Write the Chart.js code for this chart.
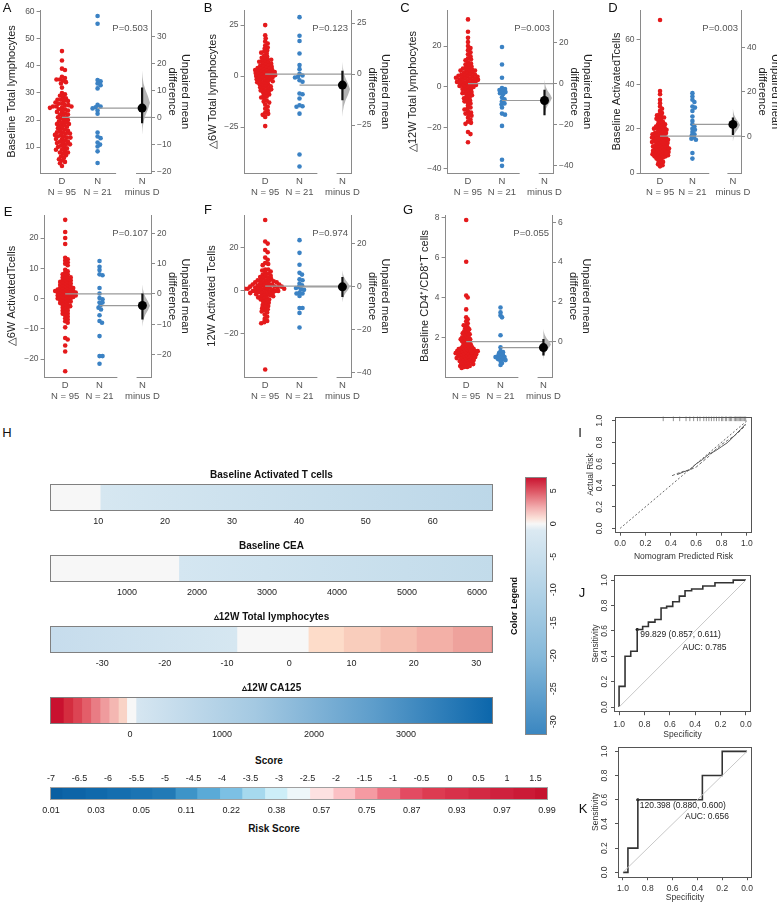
<!DOCTYPE html>
<html>
<head>
<meta charset="utf-8">
<title>Estimation plots, nomogram and ROC</title>
<script src="https://cdn.jsdelivr.net/npm/chart.js@4.4.1/dist/chart.umd.min.js"></script>
<style>
  html, body { margin: 0; padding: 0; background: #fff; }
  body { position: relative; width: 777px; height: 904px; overflow: hidden;
         font-family: 'Liberation Sans', Arial, sans-serif; }
  canvas { position: absolute; }
  .lbl { position: absolute; transform: translate(-50%, -50%); white-space: nowrap; line-height: 1; color: #111; }
</style>
</head>
<body>
<script>
// ---------- A-G : D vs N swarms ----------
const A_D = [45.5,42,39,38.5,36,35.5,35,35,34.5,34, 33.5,32,30,29.5,29,28.5,28,27.5,27.5,27,
  27,26.5,26,26,25.5,25.5,25,25,25,24.5, 24.5,24,24,23.5,23,23,22.5,22,22,21.5,
  21,21,20.5,20,20,19.5,19,19,18.5,18.5, 18,18,17.5,17,17,16.5,16,16,15.5,15.5,
  15,15,14.5,14.5,14,14,13.5,13.5,13,13, 12.5,12,12,11.5,11.5,11,11,10.5,10,10,
  9.5,9,9,8.5,8,8,7.5,7,6.5,6, 5.5,5,4.5,4,3];
const A_N = [58.5,55.6,34.8,34.3,33.5,32.9,31.7,25.6,24.7,25,24.3,23.5,22.3,15.4,13.3,13.9,10.9,11.7,10.2,8.4,4.1];

const B_D = [25,20,18.5,17,16,15,14,13.5,12.5,12, 11.5,11,10,9.5,9,8.5,8,8,7.5,7,
  7,6.5,6,6,5.5,5,5,4.5,4.5,4, 4,3.5,3.5,3,3,3,2.5,2.5,2,2,
  2,1.5,1.5,1,1,1,0.5,0.5,0,0, 0,-0.5,-0.5,-1,-1,-1.5,-1.5,-2,-2,-2.5,
  -2.5,-3,-3,-3.5,-4,-4,-4.5,-5,-5,-5.5, -6,-6,-6.5,-7,-7.5,-8,-8.5,-9,-9.5,-10,
  -10.5,-11,-12,-12.5,-13,-14,-15,-16,-17,-18, -18.5,-19,-20,-24.5,-7];
const B_N = [28.9,19.8,17.2,11.1,5.4,3.4,1.1,0.3,-0.7,-0.3,-2,-2.8,-8.9,-8.5,-11,-15,-14.8,-14.3,-18.4,-38.4,-44.3];

const C_D = [33,27,24,22,20,19,18,17,16,15, 14,13.5,13,12,11.5,11,10.5,10,9.5,9,
  9,8.5,8,8,7.5,7,7,6.5,6,6, 5.5,5.5,5,5,4.5,4.5,4,4,3.5,3.5,
  3,3,2.5,2.5,2,2,1.5,1,1,0.5, 0,0,-0.5,-1,-1.5,-2,-2.5,-3,-3.5,-4,
  -4.5,-5,-5.5,-6,-6.5,-7,-7.5,-8,-9,-10, -10.5,-11,-12,-12.5,-13,-13.5,-14,-15,-16,-17,
  -17.5,-18,-22,-23,-27,8,5,3,2,1, 0.5,-1,-3,4,6];
const C_N = [19.5,11,4.5,-0.5,-1,-1.5,-2,-2.5,-3,-3.5,-5,-6,-7,-8,-8.5,-10,-13,-13.5,-19,-35.5,-38.5];

const D_D = [69,37,35.5,33,31.5,30,29,28,27,26.5, 26,25.5,25,25,24.5,24,23.5,23,22.5,22,
  22,21.5,21,20.5,20,20,19.5,19,19,18.5, 18,18,17.5,17.5,17,17,16.5,16.5,16,16,
  15.5,15.5,15,15,14.5,14.5,14,14,13.5,13.5, 13,13,12.5,12.5,12,12,11.5,11.5,11,11,
  10.5,10.5,10,10,9.5,9.5,9,9,8.5,8.5, 8,8,7.5,7.5,7,7,6.5,6,5.5,5,
  4.5,4,3.5,3,20,18,15,12,10,8, 16,14,11,9,21];
const D_N = [36,34.5,33,32,30,29.5,28,25.5,23.5,22,21,20,19.5,18.5,17.5,17,16,15.5,15,9,6.5];

const E_D = [26,22,20,18,13.5,13,12.5,12,11.5,11, 9.5,9,8.5,8,8,7.5,7,7,6.5,6,
  6,5.5,5.5,5,5,4.5,4.5,4,4,3.5, 3.5,3.5,3,3,3,2.5,2.5,2.5,2,2,
  2,2,1.5,1.5,1.5,1,1,1,0.5,0.5, 0,0,0,-0.5,-0.5,-1,-1,-1.5,-1.5,-2,
  -2,-2.5,-2.5,-3,-3,-3.5,-4,-4,-4.5,-5, -5,-5.5,-6,-6.5,-7,-7.5,-8,-9.5,-13,-13.5,
  -15.5,-17.5,-24,4,3,2,1,0.5,6,7, 5,1,2.5,0,-1];
const E_N = [12.4,10.5,9.4,8,7.7,3.5,1.7,0.2,-0.2,-1.3,-1.3,-2.2,-3,-3.6,-5.5,-7.4,-8,-12.4,-19,-19,-21.5];

const F_D = [33,23,22,19,18,15.5,14.5,13,12.5,12, 10,9.5,9,8.5,8,7.5,7,6.5,6,5.5,
  5,5,4.5,4.5,4,4,3.5,3.5,3,3, 3,2.5,2.5,2,2,2,1.5,1.5,1.5,1,
  1,1,0.5,0.5,0.5,0,0,0,-0.5,-0.5, -0.5,-1,-1,-1.5,-1.5,-2,-2,-2.5,-2.5,-3,
  -3,-3.5,-4,-4,-4.5,-5,-5.5,-6,-6.5,-7, -7.5,-8,-8.5,-9,-9.5,-10,-11,-12,-13,-14,
  -14.5,-15,-36.5,6,4,3,2,1,0,7, 10,5,2,1,-1];
const F_N = [23.6,17.7,12.2,8.4,7.6,5.4,5,3.4,2.6,1.9,1.4,0.8,0.5,-0.8,-1.2,-1.2,-2.3,-7.9,-7.9,-10.2,-17];

const G_D = [7.9,5.8,4.1,4.0,3.4,3.0,2.9,2.8,2.7,2.6, 2.5,2.45,2.4,2.35,2.3,2.25,2.2,2.15,2.1,2.05,
  2.0,2.0,1.95,1.9,1.9,1.85,1.8,1.8,1.75,1.7, 1.7,1.65,1.6,1.6,1.55,1.5,1.5,1.45,1.45,1.4,
  1.4,1.35,1.35,1.3,1.3,1.3,1.25,1.25,1.2,1.2, 1.2,1.15,1.15,1.1,1.1,1.1,1.05,1.05,1.0,1.0,
  1.0,0.95,0.95,0.9,0.9,0.9,0.85,0.85,0.8,0.8, 0.8,0.75,0.75,0.7,0.7,0.65,0.65,0.6,0.6,0.55,
  0.55,0.5,0.5,0.45,1.25,1.3,1.2,1.15,1.35,2.2, 1.5,1.0,1.9,2.6,1.4];
const G_N = [3.5,3.25,3.1,3.0,2.1,1.5,1.3,1.25,1.2,1.1,1.1,1.05,1.0,1.0,0.95,0.9,0.9,0.85,0.8,0.7,0.6];

// group means [D, N], 95% CI of N minus D, extent of the bootstrap violin
const A_MEAN = [21.0, 24.4],  A_CI = [-2.2, 11],   A_VIO = [-6.5, 17.3];
const B_MEAN = [1.0, -4.4],   B_CI = [-12.8, 1.6], B_VIO = [-21, 6];
const C_MEAN = [1.6, -6.6],   C_CI = [-15.4, -2.9], C_VIO = [-16, 2];
const D_MEAN = [16.6, 21.9],  D_CI = [0.5, 8.4],   D_VIO = [-2.5, 12.5];
const E_MEAN = [1.55, -2.3],  E_CI = [-8.5, 0.1],  E_VIO = [-10.9, 3.1];
const F_MEAN = [2.2, 1.9],    F_CI = [-5, 4.3],    F_VIO = [-7.6, 7.4];
const G_MEAN = [1.78, 1.48],  G_CI = [-0.7, 0.13], G_VIO = [-0.92, 0.64];
const VIOLIN_PROFILE = [0, 0.06, 0.18, 0.42, 0.75, 1, 0.75, 0.42, 0.18, 0.06, 0];

const GROUP_LABELS = [['D', 'N = 95'], ['N', 'N = 21'], ['N', 'minus D']];

// ---------- H : nomogram bars ----------
const ACT_EDGES = [2.8, 10.3, 69];
const ACT_TICKS = [10, 20, 30, 40, 50, 60];
const CEA_EDGES = [-100, 1740, 6230];
const CEA_TICKS = [1000, 2000, 3000, 4000, 5000, 6000];
const TL12_EDGES = [-38.4, -8.4, 3.05, 8.7, 14.6, 20.4, 26.2, 32.3, 32.7];
const TL12_TICKS = [-30, -20, -10, 0, 10, 20, 30];
const CA125_EDGES = [-870, -725, -622, -525, -427, -326, -228, -127, -36, 65, 3946];
const CA125_TICKS = [0, 1000, 2000, 3000];

const SCORE_EDGES = [-7.018, -6.81, -6.40, -6.02, -5.61, -5.23, -4.82, -4.44, -4.04, -3.65, -3.25, -2.86,
  -2.46, -2.05, -1.67, -1.28, -0.88, -0.49, -0.09, 0.32, 0.70, 1.11, 1.49, 1.72];
const SCORE_TICKS = [-7, -6.5, -6, -5.5, -5, -4.5, -4, -3.5, -3, -2.5, -2, -1.5, -1, -0.5, 0, 0.5, 1, 1.5];
const RISK_LABELS = ['0.01', '0.03', '0.05', '0.11', '0.22', '0.38', '0.57', '0.75', '0.87', '0.93', '0.97', '0.99'];

const LEGEND_RANGE = [-32, 7.1];
const LEGEND_TICKS = [5, 0, -5, -10, -15, -20, -25, -30];
const LEGEND_STOPS = [7.1, 5, 2.5, 0.8, 0, -1, -10, -20, -32];

// ---------- I : calibration ----------
const I_APP_X = [0.41, 0.45, 0.5, 0.55, 0.6, 0.65, 0.7, 0.75, 0.8, 0.85, 0.9, 0.95, 0.99];
const I_APP_Y = [0.49, 0.51, 0.53, 0.545, 0.57, 0.62, 0.67, 0.73, 0.78, 0.82, 0.86, 0.91, 0.96];
const I_BC_X = [0.45, 0.5, 0.55, 0.6, 0.65, 0.7, 0.75, 0.8, 0.85, 0.9, 0.95, 0.99];
const I_BC_Y = [0.5, 0.525, 0.545, 0.6, 0.64, 0.69, 0.72, 0.76, 0.8, 0.86, 0.92, 0.97];
const I_RUG = [0.34, 0.42, 0.47, 0.52, 0.55, 0.58, 0.61, 0.63, 0.66, 0.68, 0.7, 0.72, 0.74, 0.76, 0.78, 0.8,
  0.81, 0.83, 0.84, 0.86, 0.87, 0.88, 0.9, 0.91, 0.92, 0.93, 0.94, 0.95, 0.96, 0.97, 0.98, 0.99];

// ---------- J, K : ROC ----------
const J_SPEC = [1, 1, 0.953, 0.953, 0.908, 0.908, 0.857, 0.857, 0.814, 0.814, 0.769, 0.769, 0.717, 0.717,
  0.669, 0.669, 0.625, 0.625, 0.577, 0.577, 0.525, 0.525, 0.48, 0.48, 0.428, 0.428, 0.34, 0.34, 0.244, 0.244, 0.1, 0.1, 0];
const J_SENS = [0, 0.163, 0.163, 0.4, 0.4, 0.44, 0.44, 0.611, 0.611, 0.635, 0.635, 0.669, 0.669, 0.69,
  0.69, 0.78, 0.78, 0.793, 0.793, 0.83, 0.83, 0.874, 0.874, 0.916, 0.916, 0.93, 0.93, 0.953, 0.953, 0.979, 0.979, 1, 1];
const K_SPEC = [1, 0.96, 0.96, 0.88, 0.88, 0.36, 0.36, 0.2, 0.2, 0];
const K_SENS = [0, 0, 0.2, 0.2, 0.6, 0.6, 0.8, 0.8, 1, 1];
const UNIT_TICKS = [0, 0.2, 0.4, 0.6, 0.8, 1];

// ================= drawing =================
const FONT = "'Liberation Sans', Arial, sans-serif";
Chart.defaults.font.family = FONT;
Chart.defaults.animation = false;
Chart.defaults.responsive = false;
Chart.defaults.devicePixelRatio = 1;
Chart.defaults.plugins.legend.display = false;
Chart.defaults.plugins.tooltip.enabled = false;
Chart.defaults.color = '#333';

const RED = '#e41a1c', BLUE = '#3b82c4', AXIS = '#8a8a8a';
const X_MIN = 0.4, X_D = 1, X_N = 2, X_DIFF = 3.25, X_MAX = 3.5;

function mk(l, t, w, h) {
  const c = document.createElement('canvas');
  c.width = w; c.height = h;
  c.style.left = l + 'px'; c.style.top = t + 'px';
  document.body.appendChild(c);
  return c;
}
function label(text, x, y, css) {
  const d = document.createElement('div');
  d.className = 'lbl';
  d.textContent = text;
  d.style.left = x + 'px'; d.style.top = y + 'px';
  Object.assign(d.style, css || {});
  document.body.appendChild(d);
}
const minus = v => String(v).replace('-', '\u2212');
const plain = v => String(v);
const fixed = list => s => { s.ticks = list.map(v => ({value: v})); };

function framePlugin(color) {
  return {
    id: 'frame',
    afterDraw(chart) {
      const a = chart.chartArea, c = chart.ctx;
      c.save();
      c.strokeStyle = color; c.lineWidth = 1;
      c.strokeRect(Math.round(a.left) + 0.5, Math.round(a.top) + 0.5,
        Math.round(a.right - a.left) - 1, Math.round(a.bottom - a.top) - 1);
      c.restore();
    }
  };
}
function notesPlugin(items) {
  return {
    id: 'notes',
    afterDatasetsDraw(chart) {
      const c = chart.ctx, xs = chart.scales.x, ys = chart.scales.y;
      c.save();
      c.fillStyle = '#222'; c.font = '8.5px ' + FONT;
      c.textAlign = 'left'; c.textBaseline = 'middle';
      items.forEach(n => c.fillText(n.text, xs.getPixelForValue(n.x) + (n.dx || 0), ys.getPixelForValue(n.y) + (n.dy || 0)));
      c.restore();
    }
  };
}
function estPlugin(pText) {
  return {
    id: 'est',
    afterDraw(chart) {
      const c = chart.ctx, a = chart.chartArea, x = chart.scales.x;
      const yb = Math.round(a.bottom) + 0.5;
      c.save();
      c.strokeStyle = AXIS; c.lineWidth = 1;
      c.beginPath();
      c.moveTo(a.left, yb); c.lineTo(x.getPixelForValue(X_N + 0.52), yb);
      c.moveTo(x.getPixelForValue(X_DIFF - 0.17), yb); c.lineTo(a.right, yb);
      c.stroke();
      c.fillStyle = '#555'; c.font = '9.5px ' + FONT;
      c.textAlign = 'right'; c.textBaseline = 'middle';
      c.fillText(pText, a.right - 3, a.top + 18);
      c.restore();
    }
  };
}

// simple beeswarm in pixel space
function swarm(chart, values, cx, gap) {
  const xs = chart.scales.x, ys = chart.scales.y;
  const ppu = xs.getPixelForValue(1) - xs.getPixelForValue(0);
  const order = values.map((v, i) => i).sort((a, b) => values[b] - values[a]);
  const placed = [], out = [];
  order.forEach(i => {
    const py = ys.getPixelForValue(values[i]);
    let dx = 0;
    for (let k = 0; k < 240; k++) {
      dx = (k % 2 ? 1 : -1) * Math.ceil(k / 2) * 0.5;
      if (placed.every(q => (q.x - dx) ** 2 + (q.y - py) ** 2 >= gap * gap)) break;
    }
    placed.push({x: dx, y: py});
    out[i] = {x: cx + dx / ppu, y: values[i]};
  });
  return out;
}

const PANELS = [
  {title: 'Baseline Total lymphocytes', D: A_D, N: A_N, mean: A_MEAN, ci: A_CI, vio: A_VIO, p: 'P=0.503',
   y: [0.4, 60.7], yt: [10, 20, 30, 40, 50, 60], y2t: [-20, -10, 0, 10, 20, 30], L: 41, R: 152, T: 10, B: 173, tOff: 29, gap: 3.1},
  {title: '\u25B36W Total lymphocytes', D: B_D, N: B_N, mean: B_MEAN, ci: B_CI, vio: B_VIO, p: 'P=0.123',
   y: [-47.5, 32.4], yt: [-25, 0, 25], y2t: [-25, 0, 25], L: 245, R: 352, T: 10, B: 173, tOff: 32, gap: 3.1},
  {title: '\u25B312W Total lymphocytes', D: C_D, N: C_N, mean: C_MEAN, ci: C_CI, vio: C_VIO, p: 'P=0.003',
   y: [-42, 37.6], yt: [-40, -20, 0, 20], y2t: [-40, -20, 0, 20], L: 448, R: 554, T: 10, B: 173, tOff: 35, gap: 3.1},
  {title: 'Baseline ActivatedTcells', D: D_D, N: D_N, mean: D_MEAN, ci: D_CI, vio: D_VIO, p: 'P=0.003',
   y: [0, 73.5], yt: [0, 20, 40, 60], y2t: [0, 20, 40], L: 641, R: 742, T: 10, B: 173, tOff: 24, gap: 2.7},
  {title: '\u25B36W ActivatedTcells', D: E_D, N: E_N, mean: E_MEAN, ci: E_CI, vio: E_VIO, p: 'P=0.107',
   y: [-25.9, 27.6], yt: [-20, -10, 0, 10, 20], y2t: [-20, -10, 0, 10, 20], L: 45, R: 152, T: 215, B: 377, tOff: 33, gap: 2.9},
  {title: '12W Activated Tcells', D: F_D, N: F_N, mean: F_MEAN, ci: F_CI, vio: F_VIO, p: 'P=0.974',
   y: [-40, 35.3], yt: [-20, 0, 20], y2t: [-40, -20, 0, 20], L: 245, R: 352, T: 215, B: 377, tOff: 33, gap: 3.0},
  {title: 'Baseline CD4\u207A/CD8\u207AT cells', D: G_D, N: G_N, mean: G_MEAN, ci: G_CI, vio: G_VIO, p: 'P=0.055',
   y: [0, 8.15], yt: [2, 4, 6, 8], y2t: [0, 2, 4, 6], L: 446, R: 553, T: 215, B: 377, tOff: 21, gap: 2.3}
];

function estimation(p) {
  const yW = p.tOff + 10.6;
  const left = p.L - yW, top = p.T - 10;
  const cv = mk(left, top, p.R + 45 - left, p.B + 32 - top);
  const md = p.mean[0], mn = p.mean[1];
  const n = VIOLIN_PROFILE.length;
  const vio = VIOLIN_PROFILE.map((f, i) => ({
    x: X_DIFF + 0.22 * f,
    y: p.vio[1] - (p.vio[1] - p.vio[0]) * i / (n - 1)
  }));
  const tickOpts = {color: '#555', font: {size: 8.5}, padding: 2, callback: minus};
  const chart = new Chart(cv, {
    type: 'scatter',
    data: {datasets: [
      {data: p.D.map(v => ({x: X_D, y: v})), backgroundColor: RED, pointRadius: 2.3, borderWidth: 0, order: 4},
      {data: p.N.map(v => ({x: X_N, y: v})), backgroundColor: BLUE, pointRadius: 2.3, borderWidth: 0, order: 4},
      {type: 'line', data: [{x: X_D, y: md}, {x: X_MAX, y: md}], borderColor: '#9a9a9a', borderWidth: 1.2, pointRadius: 0, order: 3},
      {type: 'line', data: [{x: X_N, y: mn}, {x: X_DIFF, y: mn}], borderColor: '#9a9a9a', borderWidth: 1.2, pointRadius: 0, order: 3},
      {type: 'line', yAxisID: 'y2', data: vio, fill: 'shape', backgroundColor: '#b4b4b4', borderWidth: 0, pointRadius: 0, order: 2},
      {type: 'line', yAxisID: 'y2', data: [{x: X_DIFF, y: p.ci[0]}, {x: X_DIFF, y: p.ci[1]}], borderColor: '#111', borderWidth: 2.2, pointRadius: 0, order: 1},
      {yAxisID: 'y2', data: [{x: X_DIFF, y: mn - md}], backgroundColor: '#000', pointRadius: 4.5, borderWidth: 0, order: 0}
    ]},
    options: {
      layout: {padding: {top: 10}},
      scales: {
        x: {type: 'linear', min: X_MIN, max: X_MAX, border: {display: false}, grid: {display: false, drawTicks: false},
            afterBuildTicks: fixed([X_D, X_N, X_DIFF]),
            ticks: {autoSkip: false, maxRotation: 0, padding: 2, color: '#555', font: {size: 9.5, lineHeight: 1.25},
                    callback: (v, i) => GROUP_LABELS[i]},
            afterFit: s => { s.height = 32; }},
        y: {position: 'left', min: p.y[0], max: p.y[1], afterBuildTicks: fixed(p.yt),
            border: {color: AXIS}, grid: {drawOnChartArea: false, tickLength: 4, color: AXIS}, ticks: tickOpts,
            title: {display: true, text: p.title, color: '#222', font: {size: 11}, padding: {top: 4, bottom: 0}},
            afterFit: s => { s.width = yW; }},
        y2: {position: 'right', min: p.y[0] - md, max: p.y[1] - md, afterBuildTicks: fixed(p.y2t),
             border: {color: AXIS}, grid: {drawOnChartArea: false, tickLength: 4, color: AXIS}, ticks: tickOpts,
             title: {display: true, text: ['Unpaired mean', 'difference'], color: '#222', font: {size: 11, lineHeight: 1.2}, padding: {top: 4, bottom: 0}},
             afterFit: s => { s.width = 45; }}
      }
    },
    plugins: [estPlugin(p.p)]
  });
  chart.data.datasets[0].data = swarm(chart, p.D, X_D, p.gap);
  chart.data.datasets[1].data = swarm(chart, p.N, X_N, p.gap);
  chart.update('none');
}
PANELS.forEach(estimation);

// ---------- H ----------
function hGrad(chart, lo, hi, colors) {
  if (!chart.chartArea) return colors[0];
  const xs = chart.scales.x;
  const g = chart.ctx.createLinearGradient(xs.getPixelForValue(lo), 0, xs.getPixelForValue(hi), 0);
  colors.forEach((c, i) => g.addColorStop(i / (colors.length - 1), c));
  return g;
}
function heatBar(top, title, edges, colors, ticks) {
  const cv = mk(0, top, 548, 62);
  new Chart(cv, {
    type: 'bar',
    data: {labels: [''], datasets: colors.map((c, i) => ({
      data: [[edges[i], edges[i + 1]]],
      backgroundColor: Array.isArray(c) ? ctx => hGrad(ctx.chart, edges[i], edges[i + 1], c) : c,
      borderWidth: 0, grouped: false, barPercentage: 1, categoryPercentage: 1
    }))},
    options: {
      indexAxis: 'y',
      layout: {padding: {left: 50, right: 55}},
      plugins: {title: {display: true, text: title, color: '#111', font: {size: 10, weight: 'bold'}, padding: {top: 0, bottom: 3}}},
      scales: {
        x: {min: edges[0], max: edges[edges.length - 1], grid: {display: false, drawTicks: false}, border: {display: false},
            afterBuildTicks: fixed(ticks),
            ticks: {color: '#222', font: {size: 9}, padding: 5, autoSkip: false, maxRotation: 0, callback: plain},
            afterFit: s => { s.height = 20; }},
        y: {display: false}
      }
    },
    plugins: [framePlugin('#808080')]
  });
}
heatBar(469, 'Baseline Activated T cells', ACT_EDGES, ['#f7f7f7', ['#d6e7f1', '#bcd7e8']], ACT_TICKS);
heatBar(540, 'Baseline CEA', CEA_EDGES, ['#f7f7f7', ['#d4e6f1', '#c2dbea']], CEA_TICKS);
heatBar(611, '\u25B512W Total lymphocytes', TL12_EDGES,
  [['#c6dcec', '#d6e7f1'], '#f7f7f7', '#fddcc9', '#f9cdbc', '#f6bfb1', '#f3b0a7', '#eea29c', '#e88e8b'], TL12_TICKS);
heatBar(682, '\u25B512W CA125', CA125_EDGES,
  ['#c9112f', '#d42d3f', '#dc4453', '#e35e69', '#e97c84', '#ef9b9d', '#f4b7b2', '#f9d3c6', '#f7f7f7',
   ['#d6e6f1', '#a4c9e2', '#5d9dcb', '#0b66ab']], CA125_TICKS);

// score / risk bar
const SCORE_COLORS = ['#0a5fa2', '#0d64a7', '#1069ab', '#156eaf', '#1b74b3', '#227ab6', '#3d94c8', '#5aaad7',
  '#7cc0e4', '#a6d9ee', '#cdeef8', '#eef7fa', '#fde1e1', '#fbc0c4', '#f59aa2', '#ec7181', '#e34b62', '#dd3b51',
  '#d8314a', '#d32943', '#cf213d', '#cb1a36', '#c6132f'];
new Chart(mk(0, 766, 562, 50), {
  type: 'bar',
  data: {labels: [''], datasets: SCORE_COLORS.map((c, i) => ({
    xAxisID: 'xs', data: [[SCORE_EDGES[i], SCORE_EDGES[i + 1]]], backgroundColor: c,
    borderWidth: 0, grouped: false, barPercentage: 1, categoryPercentage: 1
  }))},
  options: {
    indexAxis: 'y',
    layout: {padding: {left: 50, right: 14}},
    scales: {
      xs: {type: 'linear', position: 'top', min: SCORE_EDGES[0], max: SCORE_EDGES[SCORE_EDGES.length - 1],
           grid: {display: false, drawTicks: false}, border: {display: false}, afterBuildTicks: fixed(SCORE_TICKS),
           ticks: {color: '#222', font: {size: 9}, padding: 3, autoSkip: false, maxRotation: 0, callback: plain},
           afterFit: s => { s.height = 21; }},
      xr: {type: 'linear', position: 'bottom', min: -0.022, max: 11.022,
           grid: {display: false, drawTicks: false}, border: {display: false},
           afterBuildTicks: fixed(RISK_LABELS.map((t, i) => i)),
           ticks: {color: '#222', font: {size: 9}, padding: 5, autoSkip: false, maxRotation: 0, callback: (v, i) => RISK_LABELS[i]},
           afterFit: s => { s.height = 16; }},
      y: {display: false}
    }
  },
  plugins: [framePlugin('#a0a0a0')]
});

// color legend
const LEGEND_COLORS = ['#c8102e', '#dd5563', '#f2adae', '#fbe2da', '#f7f7f7', '#dbe9f2', '#b3d3e7', '#86b9da', '#3a86c0'];
new Chart(mk(505, 470, 70, 275), {
  type: 'bar',
  data: {labels: [''], datasets: [{
    data: [LEGEND_RANGE], borderWidth: 0, barPercentage: 1, categoryPercentage: 1,
    backgroundColor: ctx => {
      const ch = ctx.chart;
      if (!ch.chartArea) return LEGEND_COLORS[0];
      const ys = ch.scales.y;
      const y0 = ys.getPixelForValue(LEGEND_RANGE[1]), y1 = ys.getPixelForValue(LEGEND_RANGE[0]);
      const g = ch.ctx.createLinearGradient(0, y0, 0, y1);
      LEGEND_STOPS.forEach((v, i) => g.addColorStop((ys.getPixelForValue(v) - y0) / (y1 - y0), LEGEND_COLORS[i]));
      return g;
    }
  }]},
  options: {
    layout: {padding: {top: 7, bottom: 10}},
    scales: {
      x: {display: false},
      y: {position: 'right', min: LEGEND_RANGE[0], max: LEGEND_RANGE[1], afterBuildTicks: fixed(LEGEND_TICKS),
          grid: {display: false, drawTicks: false}, border: {display: false},
          ticks: {color: '#222', font: {size: 9}, padding: 0, minRotation: 90, maxRotation: 90, crossAlign: 'center'},
          afterFit: s => { s.width = 28; }},
      yl: {position: 'left', min: LEGEND_RANGE[0], max: LEGEND_RANGE[1], grid: {display: false}, border: {display: false},
           ticks: {display: false},
           title: {display: true, text: 'Color Legend', color: '#111', font: {size: 9, weight: 'bold'}, padding: {top: 4, bottom: 0}},
           afterFit: s => { s.width = 20; }}
    }
  },
  plugins: [framePlugin('#888')]
});

// ---------- I, J, K ----------
function unitAxis(title, reverse, pad, size) {
  return {
    type: 'linear', min: -0.04, max: 1.04, reverse: !!reverse, afterBuildTicks: fixed(UNIT_TICKS),
    border: {display: false}, grid: {drawOnChartArea: false, tickLength: 3, color: '#555'},
    ticks: Object.assign({color: '#333', font: {size: 8.5}, padding: pad, callback: v => v.toFixed(1)},
      size.rot ? {minRotation: 90, maxRotation: 90, crossAlign: 'center'} : {maxRotation: 0}),
    title: {display: true, text: title, color: '#333', font: {size: 8.5}, padding: size.rot ? {top: 2, bottom: 0} : {top: 0, bottom: 0}},
    afterFit: s => { if (size.rot) s.width = size.w; else s.height = size.h; }
  };
}
const pts = (xs, ys) => xs.map((x, i) => ({x, y: ys[i]}));

new Chart(mk(584, 405, 178, 157), {
  type: 'scatter',
  data: {datasets: [
    {type: 'line', data: [{x: 0, y: 0}, {x: 1, y: 1}], borderColor: '#666', borderWidth: 1, borderDash: [2, 2], pointRadius: 0},
    {type: 'line', data: pts(I_BC_X, I_BC_Y), borderColor: '#555', borderWidth: 1, pointRadius: 0},
    {type: 'line', data: pts(I_APP_X, I_APP_Y), borderColor: '#666', borderWidth: 1, borderDash: [3, 2], pointRadius: 0},
    {data: I_RUG.map(x => ({x, y: 1.02})), pointStyle: 'line', rotation: 90, pointRadius: 2.5, borderColor: '#777', borderWidth: 0.8}
  ]},
  options: {
    layout: {padding: {top: 8.5, right: 10}},
    scales: {
      x: unitAxis('Nomogram Predicted Risk', false, 2.7, {h: 29.3}),
      y: unitAxis('Actual Risk', false, 6.4, {rot: true, w: 31})
    }
  },
  plugins: [framePlugin('#555')]
});

function roc(left, top, w, h, spec, sens, cut, notes, xPad, yPad, yW, xH) {
  new Chart(mk(left, top, w, h), {
    type: 'scatter',
    data: {datasets: [
      {type: 'line', data: [{x: 1, y: 0}, {x: 0, y: 1}], borderColor: '#c8c8c8', borderWidth: 1, pointRadius: 0},
      {type: 'line', data: pts(spec, sens), borderColor: '#333', borderWidth: 1.6, pointRadius: 0},
      {data: [cut], backgroundColor: '#000', pointRadius: 1.6, borderWidth: 0}
    ]},
    options: {
      layout: {padding: {top: 8, right: 10}},
      scales: {
        x: unitAxis('Specificity', true, xPad, {h: xH}),
        y: unitAxis('Sensitivity', false, yPad, {rot: true, w: yW})
      }
    },
    plugins: [framePlugin('#555'), notesPlugin(notes)]
  });
}
roc(589, 567, 172, 173, J_SPEC, J_SENS, {x: 0.857, y: 0.611},
  [{x: 0.857, y: 0.611, text: '99.829 (0.857, 0.611)', dx: 3, dy: 5}, {x: 0.5, y: 0.465, text: 'AUC: 0.785'}],
  4.2, 0.4, 25, 27.8);
roc(589, 737, 173, 166, K_SPEC, K_SENS, {x: 0.88, y: 0.6},
  [{x: 0.88, y: 0.6, text: '120.398 (0.880, 0.600)', dx: 2, dy: 6}, {x: 0.5, y: 0.46, text: 'AUC: 0.656'}],
  3.2, 4.4, 29, 25.8);

// ---------- text labels ----------
[['A', 7, 7], ['B', 208, 7], ['C', 405, 7], ['D', 613, 7], ['E', 8, 211], ['F', 208, 209], ['G', 408, 209],
 ['H', 7, 432], ['I', 580, 432], ['J', 582, 592], ['K', 583, 808]]
  .forEach(([t, x, y]) => label(t, x, y, {fontSize: '13px'}));
label('Score', 269, 761, {fontSize: '10px', fontWeight: 'bold'});
label('Risk Score', 274, 829, {fontSize: '10px', fontWeight: 'bold'});
</script>
</body>
</html>
